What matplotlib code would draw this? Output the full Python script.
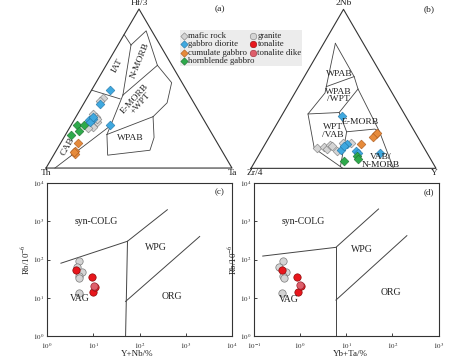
import numpy as np
import matplotlib
matplotlib.use("Agg")
import matplotlib.pyplot as plt
from matplotlib.ticker import FixedLocator, FuncFormatter, NullLocator
from matplotlib.patches import Rectangle

plt.rcParams['font.family'] = ['Liberation Serif', 'DejaVu Serif']
plt.rcParams['mathtext.fontset'] = 'stix'

# ---------------- data ----------------
# panel (a): Th - Hf/3 - Ta  (percent: Th, Hf/3, Ta)
a_mafic = [(47.5, 44, 8.5), (50, 42, 8), (58, 34, 8), (57, 32, 11), (60, 29, 11),
           (58, 29, 13), (62, 26, 12), (57, 31, 12), (65, 25, 10)]
a_gabbro_diorite = [(41, 49, 10), (51, 40, 9), (62, 30, 8), (59, 31, 10), (62, 29, 9),
                    (52, 27, 21), (59, 32, 9)]
a_cumulate = [(75, 16, 9), (79, 11, 10), (80, 9, 11), (80, 10, 10)]
a_hornblende = [(70, 27, 3), (66, 27, 7), (76, 21, 3), (71, 23, 6)]

# field boundaries (a)
a_P = {
    'P1': (16, 84, 0), 'P2': (15.6, 77.4, 7), 'P3': (3, 86.3, 10.7), 'P4': (7.8, 64.6, 27.6),
    'P5': (35.7, 45.9, 18.4), 'P6': (5.6, 53.7, 40.7), 'P7': (14.4, 41, 44.6),
    'P8': (26.3, 32.3, 41.4), 'P9': (32.3, 19.2, 48.5), 'P10': (38.5, 11.2, 50.3),
    'P11': (62.8, 8.1, 29.1), 'P12': (56.7, 21.1, 22.2), 'D0': (51.9, 26.7, 21.4),
    'D1': (95.2, 0, 4.8), 'I0': (51, 49, 0), 'I1': (38.4, 43.5, 18.1)}
a_lines = [['P1', 'P2'], ['P2', 'P3', 'P4'], ['P2', 'P5'], ['P5', 'P4'],
           ['P4', 'P6', 'P7', 'P8'], ['P8', 'P12'], ['P5', 'D0', 'P12'],
           ['P8', 'P9', 'P10', 'P11', 'P12'], ['D0', 'D1'], ['I0', 'I1']]

# panel (b): Zr/4 - 2Nb - Y (percent: Zr/4, 2Nb, Y)
b_mafic = [(58, 12.5, 29.5), (54, 13.5, 32.5), (53, 12, 35), (50, 14.5, 35.5), (48, 11, 41),
           (42, 16, 42), (38, 16, 46), (49, 14, 37)]
b_gabbro_diorite = [(34.5, 33, 32.5), (40.5, 15.5, 44), (45.5, 11.5, 43), (38, 11, 51),
                    (37.5, 9.5, 53), (25.5, 9.5, 65), (42.5, 14, 43.5)]
b_cumulate = [(21.5, 21.5, 57), (24, 20, 56), (33, 15.5, 51.5), (20.5, 22.5, 57)]
b_hornblende = [(38.5, 8, 53.5), (39, 6, 55), (47.5, 4.5, 48)]

b_P = {
    'VT': (15.1, 78.6, 6.3), 'K': (36.3, 47.4, 16.3), 'L1': (33.6, 51.4, 15.0),
    'VL': (52.1, 34.2, 13.7), 'VB': (59.5, 12.6, 27.9), 'B1': (50.3, 0, 49.7),
    'R1': (15.4, 57.7, 26.9), 'R2': (17.2, 49.9, 32.9), 'R3': (34.8, 35.1, 30.1),
    'C1': (36.8, 23, 40.2), 'C2': (20.7, 24.7, 54.6), 'R4': (19, 23.1, 57.9),
    'B2': (23, 0, 77), 'CB': (51.1, 1.1, 47.8)}
b_lines = [['VT', 'L1', 'K', 'VL', 'VB', 'B1'], ['VT', 'R1', 'R2', 'R4', 'B2'],
           ['L1', 'R1'], ['R2', 'R3', 'VL'], ['R3', 'C1', 'C2', 'R4'], ['C1', 'CB']]

# panel (c): Rb vs Y+Nb
c_granite_x = [5.0, 4.5, 5.6, 5.0, 5.0, 5.0]
c_granite_y = [92, 63, 48, 37, 32, 13.5]
c_tonalite_x = [4.2, 9.25, 10.1, 10.8]
c_tonalite_y = [53, 35.5, 14.4, 19.5]
c_dike_x = [10.5]
c_dike_y = [20.7]
c_bound1 = ([2, 55, 400], [80, 300, 2000])
c_bound2 = ([50, 55], [1, 300])
c_bound3 = ([50, 2000], [8, 400])

# panel (d): Rb vs Yb+Ta
d_granite_x = [0.43, 0.35, 0.51, 0.44, 0.46, 0.41]
d_granite_y = [92, 63, 48, 37, 32, 13.5]
d_tonalite_x = [0.40, 0.86, 0.91, 1.07]
d_tonalite_y = [53, 35.5, 14.4, 19.8]
d_dike_x = [0.99]
d_dike_y = [21.5]
d_bound1 = ([0.157, 6.0, 50], [123, 208, 2090])
d_bound2 = ([6.0, 6.0], [1, 208])
d_bound3 = ([6.0, 205], [8.7, 420])

# ---------------- styles ----------------
GRAY = dict(fc='#d4d4d4', ec='#7a7a7a')
BLUE = dict(fc='#3ea8df', ec='#2274a5')
ORANGE = dict(fc='#e68a3a', ec='#a9581c')
GREEN = dict(fc='#2eaa4b', ec='#1b6e30')
RED = dict(fc='#e8161c', ec='#8e0a0a')
PINK = dict(fc='#de5f6b', ec='#9a2a36')
LINEC = '#444444'
TXT = '#222222'

W, H = 474, 357
fig = plt.figure(figsize=(W / 100, H / 100), dpi=100)


def rect(l, t, r, b):
    return [l / W, 1 - b / H, (r - l) / W, (b - t) / H]


S3 = np.sqrt(3) / 2


def tern(pts):
    a = np.asarray(pts, float)
    a = a / a.sum(axis=1, keepdims=True)
    return a[:, 2] + a[:, 1] / 2, a[:, 1] * S3


def ternary_axes(r):
    ax = fig.add_axes(r)
    ax.set_xlim(-0.12, 1.12)
    ax.set_ylim(-0.07, 0.9)
    ax.axis('off')
    ax.plot([0, 1, 0.5, 0], [0, 0, S3, 0], color='#333333', lw=0.8)
    return ax


def draw_lines(ax, P, lines):
    for ln in lines:
        u, v = tern([P[k] for k in ln])
        ax.plot(u, v, color=LINEC, lw=0.6)


def tscatter(ax, pts, st):
    u, v = tern(pts)
    ax.scatter(u, v, marker='D', s=20, facecolor=st['fc'], edgecolor=st['ec'], lw=0.4, zorder=3)


# panel (a)
axa = ternary_axes(rect(23.7, 2.8, 254.3, 180.9))
draw_lines(axa, a_P, a_lines)
tscatter(axa, a_mafic, GRAY)
tscatter(axa, a_hornblende, GREEN)
tscatter(axa, a_cumulate, ORANGE)
tscatter(axa, a_gabbro_diorite, BLUE)
fs = 6.8
axa.text(0.5, 0.899, 'Hf/3', ha='center', va='center', fontsize=fs, color=TXT)
axa.text(0.0, -0.028, 'Th', ha='center', va='center', fontsize=fs, color=TXT)
axa.text(1.0, -0.028, 'Ta', ha='center', va='center', fontsize=fs, color=TXT)
axa.text(0.935, 0.866, '(a)', ha='center', va='center', fontsize=fs, color=TXT)
axa.text(0.382, 0.556, 'IAT', rotation=62, ha='center', va='center', fontsize=fs, color=TXT)
axa.text(0.505, 0.585, 'N-MORB', rotation=68, ha='center', va='center', fontsize=fs, color=TXT)
axa.text(0.492, 0.365, 'E-MORB\n+WPT', rotation=48, ha='center', va='center', fontsize=fs,
         color=TXT, linespacing=0.9)
axa.text(0.454, 0.161, 'WPAB', ha='center', va='center', fontsize=fs, color=TXT)
axa.text(0.116, 0.12, 'CAB', rotation=60, ha='center', va='center', fontsize=fs, color=TXT)

# panel (b)
axb = ternary_axes(rect(228.8, 3.1, 458.2, 181.2))
draw_lines(axb, b_P, b_lines)
tscatter(axb, b_mafic, GRAY)
tscatter(axb, b_cumulate, ORANGE)
tscatter(axb, b_gabbro_diorite, BLUE)
tscatter(axb, b_hornblende, GREEN)
axb.text(0.501, 0.899, '2Nb', ha='center', va='center', fontsize=fs, color=TXT)
axb.text(0.022, -0.028, 'Zr/4', ha='center', va='center', fontsize=fs, color=TXT)
axb.text(0.988, -0.028, 'Y', ha='center', va='center', fontsize=fs, color=TXT)
axb.text(0.961, 0.868, '(b)', ha='center', va='center', fontsize=fs, color=TXT)
axb.text(0.478, 0.514, 'WPAB', ha='center', va='center', fontsize=fs, color=TXT)
axb.text(0.47, 0.397, 'WPAB\n/WPT', ha='center', va='center', fontsize=fs, color=TXT,
         linespacing=0.95)
axb.text(0.589, 0.252, 'E-MORB', ha='center', va='center', fontsize=fs, color=TXT)
axb.text(0.443, 0.203, 'WPT\n/VAB', ha='center', va='center', fontsize=fs, color=TXT,
         linespacing=0.95)
axb.text(0.703, 0.04, 'VAB/\nN-MORB', ha='center', va='center', fontsize=fs, color=TXT,
         linespacing=0.95)

# legend (drawn in pixel coordinates of an overlay axes)
axl = fig.add_axes([0, 0, 1, 1], zorder=5)
axl.set_xlim(0, W)
axl.set_ylim(H, 0)
axl.axis('off')
axl.add_patch(Rectangle((180, 30), 122, 36, facecolor='#ececec', edgecolor='none'))
leg1 = [('mafic rock', GRAY, 'D'), ('gabbro diorite', BLUE, 'D'),
        ('cumulate gabbro', ORANGE, 'D'), ('hornblende gabbro', GREEN, 'D')]
leg2 = [('granite', GRAY, 'o'), ('tonalite', RED, 'o'), ('tonalite dike', PINK, 'o')]
rows = [36, 44.3, 52.6, 61]
for (lab, st, mk), yy in zip(leg1, rows):
    axl.scatter([184.5], [yy], marker=mk, s=14, facecolor=st['fc'], edgecolor=st['ec'], lw=0.4)
    axl.text(188.5, yy, lab, ha='left', va='center', fontsize=6.3, color=TXT)
for (lab, st, mk), yy in zip(leg2, rows):
    axl.scatter([253], [yy], marker=mk, s=22, facecolor=st['fc'], edgecolor=st['ec'], lw=0.4)
    axl.text(257.5, yy, lab, ha='left', va='center', fontsize=6.3, color=TXT)


# discrimination diagrams
def logfmt(v, pos):
    return r'$10^{%d}$' % int(round(np.log10(v)))


def log_axes(r, xlo, xhi, xlabel, lab_x):
    ax = fig.add_axes(r)
    ax.set_xscale('log')
    ax.set_yscale('log')
    ax.set_xlim(xlo, xhi)
    ax.set_ylim(1, 1e4)
    ax.xaxis.set_major_locator(FixedLocator([10.0 ** k for k in range(int(np.log10(xlo)), int(np.log10(xhi)) + 1)]))
    ax.yaxis.set_major_locator(FixedLocator([1, 10, 100, 1000, 10000]))
    ax.xaxis.set_minor_locator(NullLocator())
    ax.yaxis.set_minor_locator(NullLocator())
    ax.xaxis.set_major_formatter(FuncFormatter(logfmt))
    ax.yaxis.set_major_formatter(FuncFormatter(logfmt))
    ax.tick_params(direction='in', length=2, width=0.6, labelsize=5.0, colors=TXT)
    ax.tick_params(axis='x', pad=3.8)
    ax.tick_params(axis='y', pad=1.8)
    for s in ax.spines.values():
        s.set_linewidth(0.8)
        s.set_color('#333333')
    ax.set_xlabel(xlabel, fontsize=6.5, color=TXT, labelpad=1)
    ax.xaxis.set_label_coords(lab_x, -0.09)
    ax.set_ylabel(r'Rb/10$^{-6}$', fontsize=6.3, color=TXT)
    return ax


def circles(ax, x, y, st):
    ax.scatter(x, y, s=28, facecolor=st['fc'], edgecolor=st['ec'], lw=0.5, zorder=3)


axc = log_axes(rect(47, 183, 232, 336), 1, 1e4, 'Y+Nb/%', 0.485)
axc.yaxis.set_label_coords(-0.082, 0.5)
for bx, by in (c_bound1, c_bound2, c_bound3):
    axc.plot(bx, by, color=LINEC, lw=0.7)
circles(axc, c_granite_x, c_granite_y, GRAY)
circles(axc, c_tonalite_x, c_tonalite_y, RED)
circles(axc, c_dike_x, c_dike_y, PINK)
fs2 = 7
axc.text(11.8, 1000, 'syn-COLG', ha='center', va='center', fontsize=fs2, color=TXT)
axc.text(228, 203, 'WPG', ha='center', va='center', fontsize=fs2, color=TXT)
axc.text(5.2, 9.3, 'VAG', ha='center', va='center', fontsize=fs2, color=TXT)
axc.text(500, 10.6, 'ORG', ha='center', va='center', fontsize=fs2, color=TXT)
axc.text(0.935, 0.94, '(c)', transform=axc.transAxes, ha='center', va='center', fontsize=6.5, color=TXT)

axd = log_axes(rect(253.7, 183, 438.7, 336), 0.1, 1e3, 'Yb+Ta/%', 0.522)
axd.yaxis.set_label_coords(-0.082, 0.5)
for bx, by in (d_bound1, d_bound2, d_bound3):
    axd.plot(bx, by, color=LINEC, lw=0.7)
circles(axd, d_granite_x, d_granite_y, GRAY)
circles(axd, d_tonalite_x, d_tonalite_y, RED)
circles(axd, d_dike_x, d_dike_y, PINK)
axd.text(1.2, 970, 'syn-COLG', ha='center', va='center', fontsize=fs2, color=TXT)
axd.text(22, 188, 'WPG', ha='center', va='center', fontsize=fs2, color=TXT)
axd.text(0.57, 9.1, 'VAG', ha='center', va='center', fontsize=fs2, color=TXT)
axd.text(93, 13.5, 'ORG', ha='center', va='center', fontsize=fs2, color=TXT)
axd.text(0.946, 0.943, '(d)', transform=axd.transAxes, ha='center', va='center', fontsize=6.5, color=TXT)

fig.savefig('out.png', dpi=100)
